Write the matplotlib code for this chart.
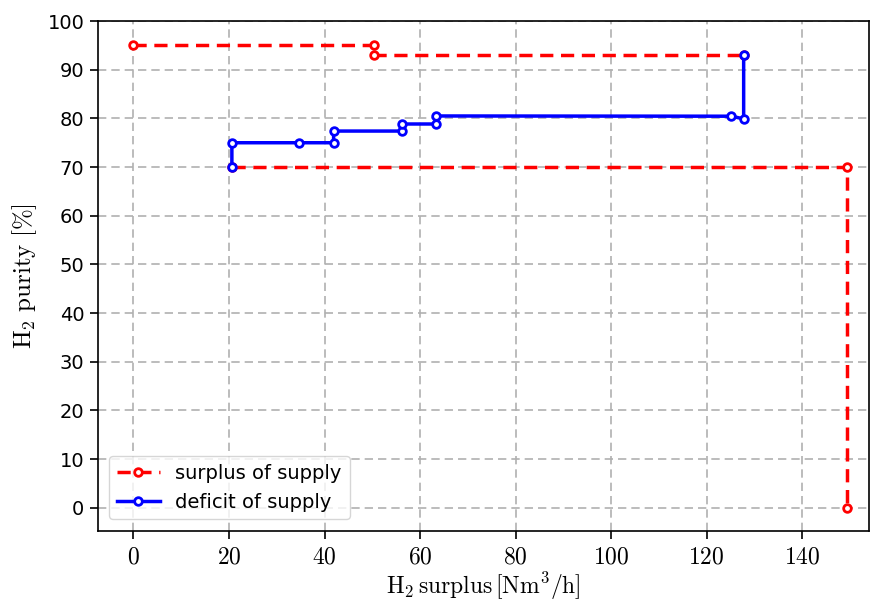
import matplotlib
matplotlib.use("Agg")
import matplotlib.pyplot as plt
from matplotlib.ticker import FuncFormatter

plt.rcParams['mathtext.fontset'] = 'cm'

# --- data ---
# surplus of supply (red, dashed) -- two pieces
surplus_a_x = [0, 50.3, 50.3, 127.75]
surplus_a_y = [95, 95, 93, 93]
surplus_b_x = [20.6, 149.4, 149.4]
surplus_b_y = [70, 70, 0]

# deficit of supply (blue, solid)
deficit_x = [20.6, 20.6, 34.6, 41.9, 41.9, 56.3, 56.3, 63.3, 63.3, 125.2, 127.75, 127.75]
deficit_y = [70, 75, 75, 75, 77.4, 77.4, 78.85, 78.85, 80.5, 80.45, 79.9, 93]

x_ticks = [0, 20, 40, 60, 80, 100, 120, 140]
y_ticks = [0, 10, 20, 30, 40, 50, 60, 70, 80, 90, 100]

fig = plt.figure(figsize=(8.72, 6.01), dpi=100)
ax = fig.add_axes([0.112, 0.1165, 0.8846, 0.8485])

mk = dict(marker='o', markersize=5.5, markerfacecolor='white', markeredgewidth=2)
ax.plot(surplus_a_x, surplus_a_y, color='red', linestyle='--', linewidth=2.5,
        dashes=(3.8, 2.2), label='surplus of supply', zorder=3, **mk)
ax.plot(surplus_b_x, surplus_b_y, color='red', linestyle='--', linewidth=2.5,
        dashes=(3.8, 2.2), zorder=3, **mk)
ax.plot(deficit_x, deficit_y, color='blue', linestyle='-', linewidth=2.5,
        label='deficit of supply', zorder=4, **mk)

ax.set_xlim(-7.5, 154)
ax.set_ylim(-4.75, 100)
ax.set_xticks(x_ticks)
ax.set_yticks(y_ticks)
ax.xaxis.set_major_formatter(FuncFormatter(lambda v, p: r'$%d$' % v))

ax.grid(True, color='#b0b0b0', linestyle='--', linewidth=1.2, dashes=(5, 3))
ax.set_axisbelow(True)
ax.tick_params(axis='both', labelsize=14, length=6, width=1.2, direction='out')
ax.tick_params(axis='x', labelsize=17)
for s in ax.spines.values():
    s.set_linewidth(1.2)

ax.set_xlabel(r'$\mathrm{H_2\,surplus\,[Nm^3/h]}$', fontsize=17, labelpad=2)
ax.set_ylabel(r'$\mathrm{H_2\ purity\ [\%]}$', fontsize=18, labelpad=6)

ax.legend(loc='lower left', fontsize=14, handlelength=2.2, borderaxespad=0.6,
          framealpha=0.8, edgecolor='#cccccc')

fig.savefig('out.png', dpi=100)
